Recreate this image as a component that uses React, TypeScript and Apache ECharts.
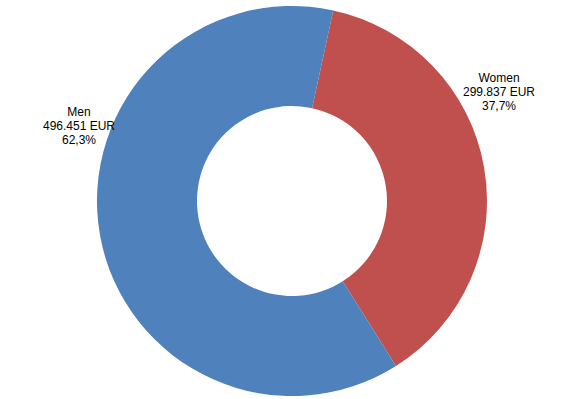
import React, { useEffect, useRef } from "react";
import * as echarts from "echarts";

const categories = ["Women", "Men"];
const values = [299837, 496451];
const colors = ["#C0504D", "#4F81BD"];

function fmtThousands(v: number): string {
  return String(Math.round(v)).replace(/\B(?=(\d{3})+(?!\d))/g, ".");
}

export default function App() {
  const ref = useRef<HTMLDivElement>(null);
  useEffect(() => {
    if (!ref.current) return;
    const chart = echarts.init(ref.current, null, { renderer: "svg" });
    const total = values.reduce((a, b) => a + b, 0);
    const labelPos = [
      [499, 92],
      [79, 126],
    ];
    chart.setOption({
      animation: false,
      series: [
        {
          type: "pie",
          center: [292, 201],
          radius: [95, 195],
          startAngle: 77.8,
          clockwise: true,
          silent: true,
          avoidLabelOverlap: false,
          data: categories.map((c, i) => ({
            name: c,
            value: values[i],
            itemStyle: { color: colors[i] },
          })),
          label: {
            show: true,
            position: "outside",
            color: "#000",
            fontFamily: "Liberation Sans, Arial, sans-serif",
            fontSize: 12,
            lineHeight: 14,
            align: "center",
            overflow: "none",
            formatter: (p: any) =>
              p.name +
              "\n" +
              fmtThousands(p.value) +
              " EUR\n" +
              ((p.value / total) * 100).toFixed(1).replace(".", ",") +
              "%",
          },
          labelLine: { show: false },
          labelLayout: (params: any) => ({
            x: labelPos[params.dataIndex][0],
            y: labelPos[params.dataIndex][1],
            align: "center",
            verticalAlign: "middle",
            width: 200,
          }),
        },
      ],
    });
    return () => chart.dispose();
  }, []);
  return (
    <div
      ref={ref}
      style={{ position: "fixed", left: 0, top: 0, width: 583, height: 399, background: "#fff" }}
    />
  );
}
